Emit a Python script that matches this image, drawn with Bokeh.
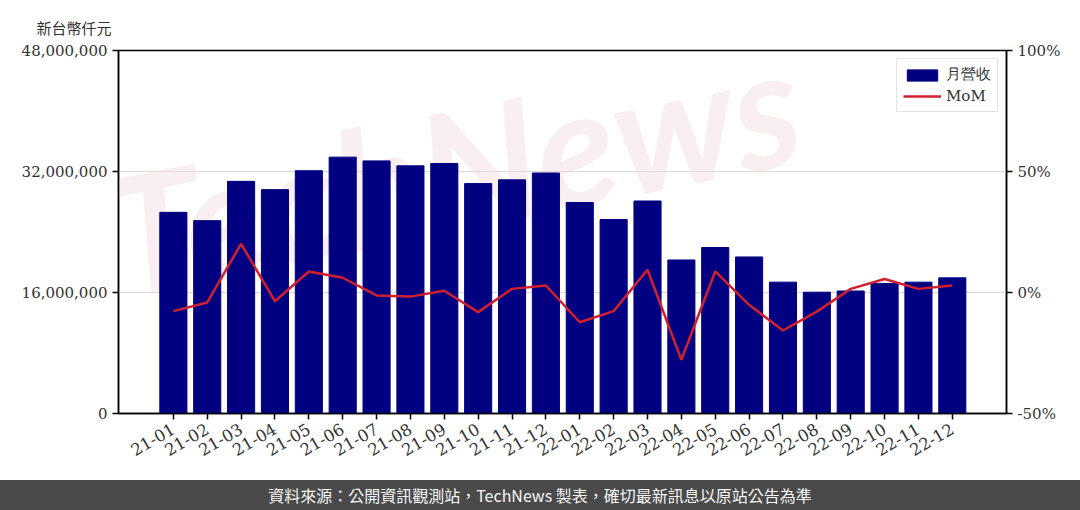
from bokeh.plotting import figure
from bokeh.models import (Range1d, LinearAxis, FixedTicker, NumeralTickFormatter,
                          PrintfTickFormatter, Legend, LegendItem, Div)
from bokeh.layouts import column
from bokeh.core.properties import value
from bokeh.embed import file_html
from bokeh.resources import INLINE
import math

months = ["21-01", "21-02", "21-03", "21-04", "21-05", "21-06", "21-07", "21-08",
          "21-09", "21-10", "21-11", "21-12", "22-01", "22-02", "22-03", "22-04",
          "22-05", "22-06", "22-07", "22-08", "22-09", "22-10", "22-11", "22-12"]
# monthly revenue, NT$ thousand
revenue = [26600000, 25500000, 30700000, 29600000, 32100000, 33900000, 33400000, 32750000,
           33060000, 30400000, 30900000, 31800000, 27900000, 25650000, 28100000, 20300000,
           21950000, 20700000, 17370000, 16040000, 16200000, 17200000, 17370000, 17940000]
# month over month change, %
mom = [-7.7, -4.1, 20.1, -3.6, 8.7, 6.1, -1.2, -1.7, 0.7, -8.1, 1.5, 2.9,
       -12.3, -7.7, 9.4, -27.8, 8.7, -5.1, -15.7, -7.9, 1.5, 5.6, 1.5, 2.9]

left_ticks = [0, 16000000, 32000000, 48000000]
right_ticks = [-50, 0, 50, 100]

xs = list(range(len(months)))
serif = "DejaVu Serif"

p = figure(width=1080, height=480, output_backend="svg", toolbar_location=None,
           title="新台幣仟元",
           x_range=Range1d(-1.62, 24.6), y_range=Range1d(0, 48000000),
           min_border_left=118, min_border_top=50, min_border_right=74, min_border_bottom=67)
p.extra_y_ranges = {"mom": Range1d(-50, 100)}

p.title.text_font = "Noto Sans CJK TC"
p.title.text_font_size = "15px"
p.title.text_font_style = "normal"
p.title.text_color = "#333333"
p.title.align = "left"
p.title.offset = -82
p.title.standoff = 26

# faint watermark
p.text(x=[-1.3], y=[10500000], text=["TechNews"], angle=0.2,
       text_font=value("Lato"), text_font_style="bold italic",
       text_font_size="165px", text_color="#f2dadd", text_alpha=0.45)

bars = p.vbar(x=xs, top=revenue, width=0.8, fill_color="#000080", line_color="#000080")
line = p.line(x=xs, y=mom, y_range_name="mom", line_color="#d0202e", line_width=2.5)

p.xgrid.grid_line_color = None
p.ygrid.ticker = FixedTicker(ticks=[16000000, 32000000])
p.ygrid.grid_line_color = "#d8d8d8"
p.ygrid.grid_line_width = 1.2

p.outline_line_color = "black"
p.outline_line_width = 1.5
p.outline_line_alpha = 1

ax = p.xaxis[0]
ax.ticker = FixedTicker(ticks=xs)
ax.major_label_overrides = {i: m for i, m in enumerate(months)}
ax.major_label_orientation = math.pi / 6

ay = p.yaxis[0]
ay.ticker = FixedTicker(ticks=left_ticks)
ay.formatter = NumeralTickFormatter(format="0,0")

ry = LinearAxis(y_range_name="mom", ticker=FixedTicker(ticks=right_ticks),
                formatter=PrintfTickFormatter(format="%d%%"))
p.add_layout(ry, "right")

for a in [ax, ay, ry]:
    a.major_label_text_font = serif
    a.major_label_text_font_size = "15px"
    a.major_label_text_color = "#333333"
    a.axis_line_color = "black"
    a.axis_line_width = 1.5
    a.major_tick_line_color = "black"
    a.major_tick_line_width = 1.5
    a.major_tick_out = 6
    a.major_tick_in = 0
    a.minor_tick_line_color = None
ax.major_label_text_font_size = "16.5px"
ax.major_label_standoff = 8

legend = Legend(items=[LegendItem(label="月營收", renderers=[bars]),
                       LegendItem(label="MoM", renderers=[line])],
                location="top_right")
legend.label_text_font = serif
legend.label_text_font_size = "15px"
legend.label_text_color = "#333333"
legend.border_line_color = "#cccccc"
legend.glyph_width = 38
legend.glyph_height = 14
legend.spacing = 3
legend.padding = 6
legend.margin = 8
p.add_layout(legend)

footer = Div(text="資料來源：公開資訊觀測站，TechNews 製表，確切最新訊息以原站公告為準",
             width=1080, height=30, margin=0,
             styles={"background-color": "#4a4a4a", "color": "#f5f5f5",
                     "text-align": "center", "font-family": "Noto Sans CJK TC",
                     "font-size": "16px", "line-height": "30px", "width": "1080px"})

page = column(p, footer, spacing=0)

open("out.html", "w").write(file_html(page, INLINE))
